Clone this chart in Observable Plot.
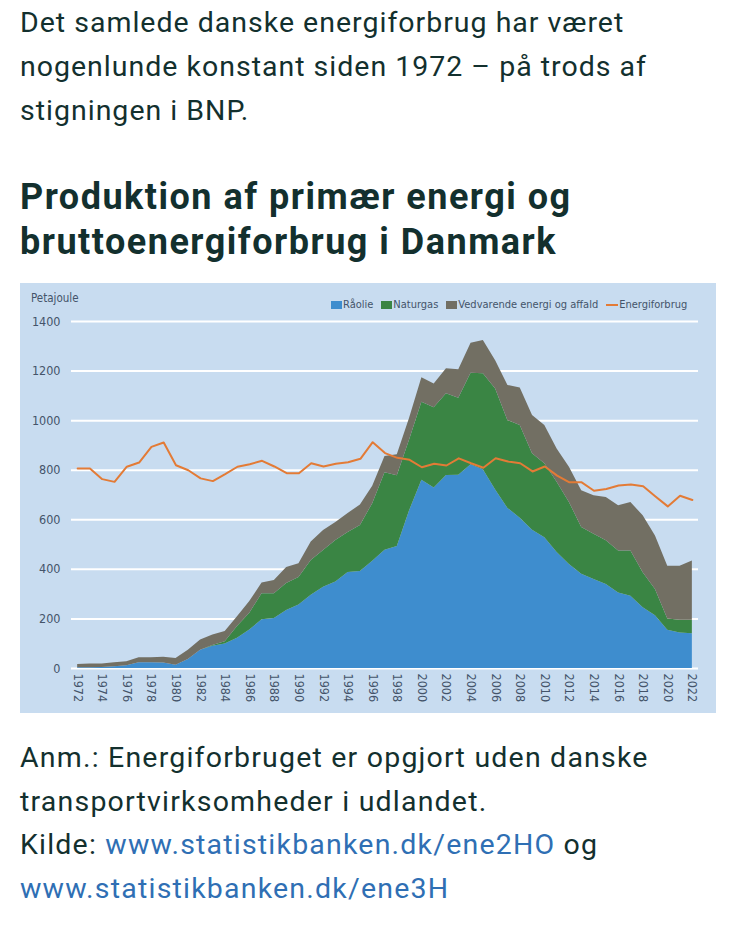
<!DOCTYPE html>
<html>
<head>
<meta charset="utf-8">
<script src="https://cdn.jsdelivr.net/npm/d3@7"></script>
<script src="https://cdn.jsdelivr.net/npm/@observablehq/plot@0.6"></script>
<style>
  html, body { margin: 0; padding: 0; background: #ffffff; }
  body { width: 734px; height: 934px; position: relative; overflow: hidden; font-family: Roboto, "Noto Sans", sans-serif; color: #13302e; }
  .intro { position: absolute; left: 20px; top: 1px; font-size: 28.5px; line-height: 44px; letter-spacing: 1px; }
  .title { position: absolute; left: 20px; top: 175px; font-size: 36px; line-height: 45px; font-weight: 700; letter-spacing: 1.5px; }
  .chartbox { position: absolute; left: 20px; top: 283px; width: 696px; height: 430px; background: #c8dcf0; }
  .petajoule { position: absolute; left: 11px; top: 8px; font-family: "Liberation Sans Narrow", "Arial Narrow", "DejaVu Sans Condensed", sans-serif; font-size: 11.5px; color: #44546a; }
  .legend { position: absolute; left: 311px; top: 15px; display: flex; align-items: center; font-family: "Liberation Sans Narrow", "Arial Narrow", "DejaVu Sans Condensed", sans-serif; font-size: 11px; color: #44546a; white-space: nowrap; }
  .legend .item { display: flex; align-items: center; margin-right: 8px; }
  .legend .sw { width: 11px; height: 8px; margin-right: 1px; }
  .legend .ln { width: 12px; height: 2px; margin-right: 1px; }
  .caption { position: absolute; left: 20px; top: 736px; font-size: 28.5px; line-height: 43.5px; letter-spacing: 1.2px; }
  .caption a { color: #2f6fb4; text-decoration: none; }
</style>
</head>
<body>
<div class="intro">Det samlede danske energiforbrug har været<br>nogenlunde konstant siden 1972 – på trods af<br>stigningen i BNP.</div>
<div class="title">Produktion af primær energi og<br>bruttoenergiforbrug i Danmark</div>
<div class="chartbox" id="box">
  <div class="petajoule">Petajoule</div>
  <div class="legend" id="legend"></div>
</div>
<div class="caption">Anm.: Energiforbruget er opgjort uden danske<br>transportvirksomheder i udlandet.<br>Kilde: <a>www.statistikbanken.dk/ene2HO</a> og<br><a>www.statistikbanken.dk/ene3H</a></div>

<script>
const years = [1972,1973,1974,1975,1976,1977,1978,1979,1980,1981,1982,1983,1984,1985,1986,1987,1988,1989,1990,1991,1992,1993,1994,1995,1996,1997,1998,1999,2000,2001,2002,2003,2004,2005,2006,2007,2008,2009,2010,2011,2012,2013,2014,2015,2016,2017,2018,2019,2020,2021,2022];

// Petajoule
const raolie = [3,3,4,7,11,23,23,22,13,36,74,90,99,122,155,197,202,234,256,296,328,349,387,391,433,477,492,636,760,728,779,780,822,802,720,646,606,558,528,468,420,380,359,339,305,292,245,213,154,143,140];
const naturgas = [0,0,0,0,0,0,0,0,0,0,0,3,9,47,68,105,100,109,111,140,148,167,162,186,232,313,286,286,314,324,329,310,369,387,408,354,374,308,298,283,250,189,183,176,169,182,141,106,46,52,55];
const vedvarende = [13,15,14,16,16,20,20,23,27,38,41,42,41,40,47,43,53,64,56,74,81,73,76,83,70,65,84,88,99,96,101,115,121,134,114,142,152,155,154,135,142,148,155,175,183,196,230,216,213,218,239];
const energiforbrug = [807,807,764,753,814,831,894,912,820,800,767,756,784,814,824,838,815,788,788,828,815,826,832,846,913,869,850,842,812,826,819,848,828,810,848,835,828,795,815,778,751,751,717,724,738,742,735,694,654,697,680];

const seriesNames = ["Råolie", "Naturgas", "Vedvarende energi og affald"];
const seriesColors = ["#3e8dce", "#3a8544", "#726f63"];
const lineName = "Energiforbrug";
const lineColor = "#e37b36";

const yTicks = [0, 200, 400, 600, 800, 1000, 1200, 1400];
const xTicks = [1972,1974,1976,1978,1980,1982,1984,1986,1988,1990,1992,1994,1996,1998,2000,2002,2004,2006,2008,2010,2012,2014,2016,2018,2020,2022];

const prod = [];
[raolie, naturgas, vedvarende].forEach((arr, i) => {
  years.forEach((yr, j) => prod.push({year: yr, value: arr[j], series: seriesNames[i]}));
});
const forbrug = years.map((yr, j) => ({year: yr, value: energiforbrug[j]}));

const chart = Plot.plot({
  width: 696,
  height: 430,
  marginLeft: 51,
  marginRight: 18,
  marginTop: 38,
  marginBottom: 45,
  style: {background: "transparent", fontFamily: "'Liberation Sans Narrow', 'Arial Narrow', 'DejaVu Sans Condensed', sans-serif", fontSize: "12.5px", color: "#44546a", overflow: "visible"},
  x: {domain: [1971.5, 2022.5], ticks: xTicks, tickFormat: d => String(d), tickRotate: 90, tickSize: 0, tickPadding: 5, label: null},
  y: {domain: [0, 1400], ticks: yTicks, tickFormat: d => String(d), tickSize: 0, tickPadding: 11, label: null},
  color: {domain: seriesNames, range: seriesColors},
  marks: [
    Plot.ruleY(yTicks, {stroke: "#ffffff", strokeWidth: 2}),
    Plot.areaY(prod, Plot.stackY({x: "year", y: "value", z: "series", fill: "series", order: seriesNames})),
    Plot.lineY(forbrug, {x: "year", y: "value", stroke: lineColor, strokeWidth: 2})
  ]
});
chart.style.position = "absolute";
chart.style.left = "0px";
chart.style.top = "0px";
document.getElementById("box").appendChild(chart);

const legend = document.getElementById("legend");
seriesNames.forEach((name, i) => {
  const it = document.createElement("div");
  it.className = "item";
  it.innerHTML = `<span class="sw" style="background:${seriesColors[i]}"></span><span>${name}</span>`;
  legend.appendChild(it);
});
const li = document.createElement("div");
li.className = "item";
li.innerHTML = `<span class="ln" style="background:${lineColor}"></span><span>${lineName}</span>`;
legend.appendChild(li);
</script>
</body>
</html>
